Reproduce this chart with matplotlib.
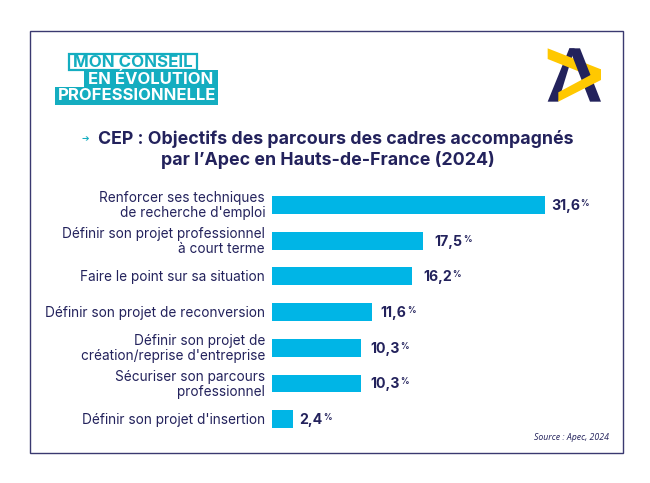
import matplotlib
matplotlib.use("Agg")
import matplotlib.pyplot as plt
from matplotlib.patches import Polygon, Rectangle

W, H = 650, 483
NAVY = "#23225c"
TEAL = "#14adc0"
CYAN = "#00b5e6"
YELLOW = "#ffc800"
FONT = "Inter"

categories = ["Renforcer ses techniques\nde recherche d'emploi",
              "Définir son projet professionnel\nà court terme",
              "Faire le point sur sa situation",
              "Définir son projet de reconversion",
              "Définir son projet de\ncréation/reprise d'entreprise",
              "Sécuriser son parcours\nprofessionnel",
              "Définir son projet d'insertion"]
values = [31.6, 17.5, 16.2, 11.6, 10.3, 10.3, 2.4]
value_labels = ["31,6", "17,5", "16,2", "11,6", "10,3", "10,3", "2,4"]
title_lines = ["CEP : Objectifs des parcours des cadres accompagnés",
               "par l’Apec en Hauts-de-France (2024)"]
label_gaps_pt = [4.3, 8, 8, 6, 6.5, 6.5, 5]

fig = plt.figure(figsize=(W / 100, H / 100), dpi=100, facecolor="white")
bg = fig.add_axes([0, 0, 1, 1])
bg.set_xlim(0, W); bg.set_ylim(H, 0); bg.axis("off")

bg.add_patch(Rectangle((30, 31), 593, 422, fill=False, ec="#3a3970", lw=1))

# logo text blocks
bg.add_patch(Rectangle((69, 54), 128, 16, fc="white", ec=TEAL, lw=1.6))
bg.add_patch(Rectangle((84, 70), 134, 18, fc=TEAL, ec="none"))
bg.add_patch(Rectangle((55, 87), 163, 18, fc=TEAL, ec="none"))
bg.text(133, 62.5, "MON CONSEIL", color=TEAL, fontsize=12.2, fontweight="bold",
        family=FONT, ha="center", va="center")
bg.text(151, 79, "EN ÉVOLUTION", color="white", fontsize=12, fontweight="bold",
        family=FONT, ha="center", va="center")
bg.text(137, 96, "PROFESSIONNELLE", color="white", fontsize=12, fontweight="bold",
        family=FONT, ha="center", va="center")

# Apec logo
def lg(points):
    return [(530 + x / 3, 35 + y / 3) for x, y in points]
bg.add_patch(Polygon(lg([(118, 40), (134, 40), (85, 200), (53, 200)]), fc=NAVY, ec="none"))
bg.add_patch(Polygon(lg([(53, 40), (213, 103), (213, 135), (178, 122), (53, 72)]), fc=YELLOW, ec="none"))
bg.add_patch(Polygon(lg([(118, 40), (150, 40), (213, 200), (180, 200)]), fc=NAVY, ec="none"))
bg.add_patch(Polygon(lg([(85, 172), (178, 122), (213, 103), (213, 135), (85, 200)]), fc=YELLOW, ec="none"))

# title
bg.text(85, 138.5, "➔", color="#14adc0", fontsize=6.5, family="DejaVu Sans", ha="center", va="center")
bg.text(336, 138.5, title_lines[0], color=NAVY, fontsize=12.8, fontweight="bold",
        family=FONT, ha="center", va="center")
bg.text(327.5, 160, title_lines[1], color=NAVY, fontsize=12.8, fontweight="bold",
        family=FONT, ha="center", va="center")

# chart
left, right, top, bottom = 272, 545, 187, 437
ax = fig.add_axes([left / W, 1 - bottom / H, (right - left) / W, (bottom - top) / H])
ax.set_xlim(0, 31.6)
ypos = list(range(len(values)))
ax.set_ylim(len(values) - 0.5, -0.5)
ax.barh(ypos, values, height=0.5, color=CYAN)
ax.axis("off")
ax.patch.set_alpha(0)

for y, cat in zip(ypos, categories):
    ax.annotate(cat, (0, y), xytext=(-5, -0.7), textcoords="offset points", ha="right", va="center",
                color=NAVY, fontsize=9.8, family=FONT, linespacing=1.1, annotation_clip=False)

for y, v, lab, gap in zip(ypos, values, value_labels, label_gaps_pt):
    t = ax.annotate(lab, (v, y), xytext=(gap, -0.7), textcoords="offset points", ha="left", va="center",
                    color=NAVY, fontsize=10.2, fontweight="bold", family=FONT, annotation_clip=False)
    ax.annotate("%", xy=(1, 1), xycoords=t, xytext=(0.5, 0), textcoords="offset points",
                ha="left", va="top", color=NAVY, fontsize=6, fontweight="bold", family=FONT,
                annotation_clip=False)

bg.text(609, 437, "Source : Apec, 2024", color=NAVY, fontsize=6.3, style="italic",
        family="Open Sans", ha="right", va="center")

fig.savefig("out.png", dpi=100)
